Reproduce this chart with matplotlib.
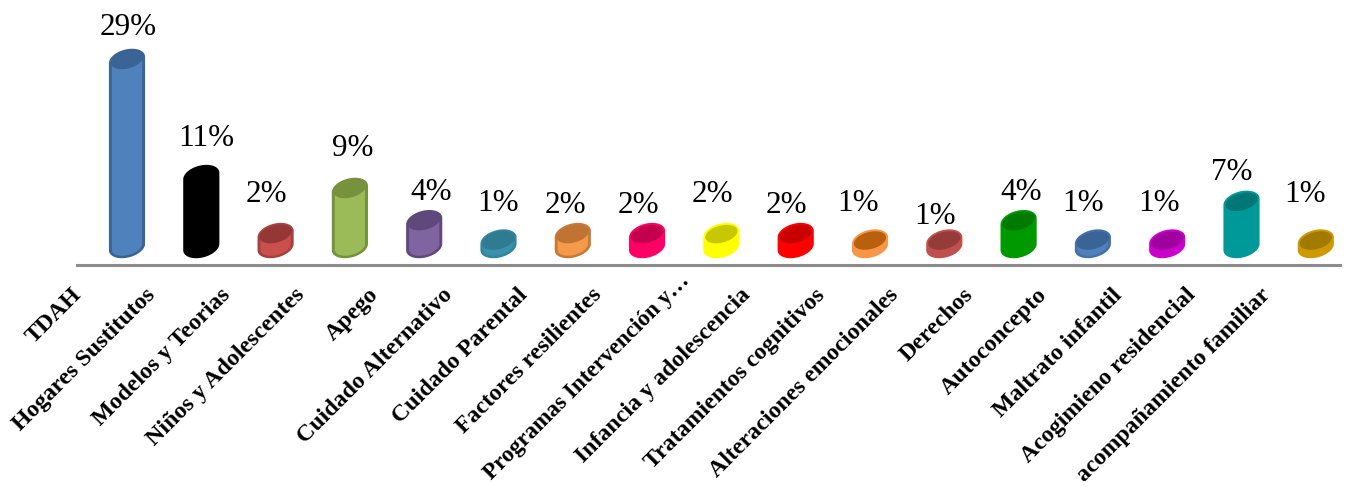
import numpy as np
import matplotlib
matplotlib.use("Agg")
import matplotlib.pyplot as plt
from matplotlib.patches import PathPatch
from matplotlib.path import Path
from matplotlib.transforms import ScaledTranslation, IdentityTransform

plt.rcParams['font.family'] = ['Liberation Serif', 'DejaVu Serif']

categories = ["TDAH", "Hogares Sustitutos", "Modelos y Teorias", "Niños y Adolescentes",
              "Apego", "Cuidado Alternativo", "Cuidado Parental", "Factores resilientes",
              "Programas Intervención y…", "Infancia y adolescencia", "Tratamientos cognitivos",
              "Alteraciones emocionales", "Derechos", "Autoconcepto", "Maltrato infantil",
              "Acogimieno residencial", "acompañamiento familiar"]
values = [29, 11, 2, 9, 4, 1, 2, 2, 2, 2, 1, 1, 4, 1, 1, 7, 1]
edge_colors = ["#3A6496", "#000000", "#A8403D", "#76923C", "#5F497A", "#31859C", "#C77A35",
               "#FF0066", "#FFFF00", "#FF0000", "#F79646", "#C0504D", "#009900", "#4472A8",
               "#CC00CC", "#009999", "#CC9900"]
body_colors = ["#4F81BD", "#000000", "#C9504D", "#9BBB59", "#8064A2", "#3A91AB", "#F59A4A",
               "#FF0066", "#FFFF00", "#FF0000", "#F79646", "#C0504D", "#009900", "#4F81BD",
               "#CC00CC", "#009999", "#CC9900"]
top_colors = ["#3A6496", "#000000", "#953735", "#76923C", "#5F497A", "#2F7C92", "#BF7433",
              "#C2004E", "#C8C800", "#C80000", "#B9600F", "#953B3A", "#007A00", "#3A6496",
              "#A000A0", "#007777", "#A37A00"]
# nudges of the percent labels from the bar top, pixels
label_dx = [1, 5, -9, 3, 7, 0, -7, -9, -9, -9, -12, -9, 3, -10, -8, -10, -11]
label_dy = [32, 38, 40, 40, 29, 37, 29, 29, 40, 29, 37, 24, 29, 37, 37, 29, 46]

W, H = 1347, 487
fig = plt.figure(figsize=(W/100, H/100), dpi=100)
x0, x1, base = 77, 1340, 265
ax = fig.add_axes([x0/W, (H-base)/H, (x1-x0)/W, base/H])
px_x, px_y = 74.3, 6.45
ax.set_xlim((x0-127)/px_x, (x1-127)/px_x)
ax.set_ylim(-(base-247)/px_y, 247/px_y)
for s in ['top', 'left', 'right']:
    ax.spines[s].set_visible(False)
ax.spines['bottom'].set_color('#8c8c8c')
ax.spines['bottom'].set_linewidth(2.2)
ax.set_yticks([])
ax.set_xticks(range(len(categories)))
ax.set_xticklabels(categories, rotation=45, ha='right', va='top', rotation_mode='anchor',
                   fontsize=17.2, fontweight='bold')
ax.tick_params(axis='x', length=0, pad=14)
for i, t in enumerate(ax.get_xticklabels()):
    # the truncated label sits further along its diagonal
    extra = 0.14 if categories[i].endswith("…") else 0
    if extra:
        t.set_fontsize(16.7)
    t.set_transform(t.get_transform() + ScaledTranslation(-0.56 + extra, extra, fig.dpi_scale_trans))


def ellipse_pts(cx, cy, w, h, angle=15):
    # outline in display pixels, counterclockwise
    t = np.linspace(0, 2*np.pi, 120, endpoint=False)
    a = np.radians(angle)
    ex, ey = w/2*np.cos(t), h/2*np.sin(t)
    return np.column_stack((cx + ex*np.cos(a) - ey*np.sin(a), cy + ex*np.sin(a) + ey*np.cos(a)))


def hull(bottom, top):
    # upper half of the top ellipse joined to lower half of the bottom ellipse
    r = np.roll(top, -np.argmax(top[:, 0]), axis=0)
    upper = r[:np.argmin(r[:, 0])+1]
    r = np.roll(bottom, -np.argmin(bottom[:, 0]), axis=0)
    lower = r[:np.argmax(r[:, 0])+1]
    return np.vstack((upper, lower))


def add_poly(pts, color, z):
    ax.add_patch(PathPatch(Path(np.vstack((pts, pts[0]))), facecolor=color, edgecolor='none',
                           transform=IdentityTransform(), zorder=z, clip_on=False))


fig.canvas.draw()
for i, v in enumerate(values):
    cx_b, cy_b = ax.transData.transform((i, 0))
    cx_t, cy_t = ax.transData.transform((i, v))
    w, h = 37, 21
    add_poly(hull(ellipse_pts(cx_b, cy_b, w, h), ellipse_pts(cx_t, cy_t, w, h)), edge_colors[i], 2)
    add_poly(hull(ellipse_pts(cx_b, cy_b, w-6, h-5), ellipse_pts(cx_t, cy_t, w-6, h-5)), body_colors[i], 3)
    add_poly(ellipse_pts(cx_t, cy_t, w-4, h-4), top_colors[i], 4)
    ax.annotate("%d%%" % v, (i, v), xytext=(label_dx[i]*0.72, label_dy[i]*0.72),
                textcoords='offset points', ha='center', va='center', fontsize=22.4, color='black',
                annotation_clip=False)

fig.savefig('out.png', dpi=100)
